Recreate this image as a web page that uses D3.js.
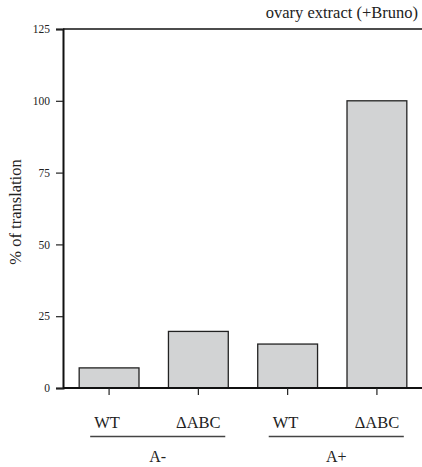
<!DOCTYPE html>
<html>
<head>
<meta charset="utf-8">
<script src="https://cdn.jsdelivr.net/npm/d3@7"></script>
<style>
  body { margin: 0; background: #fff; }
  svg text { font-family: "Liberation Serif", "DejaVu Serif", serif; fill: #222; }
</style>
</head>
<body>
<div id="container"></div>
<script>
// CONSTANTS ###############################
const width = 422,
  height = 467,
  margin = { top: 29, left: 63, right: 0, bottom: 79 };
const serif = "'Liberation Serif', 'DejaVu Serif', serif";

// DATA ####################################
const conditions = ["WT", "\u0394ABC", "WT", "\u0394ABC"];
const groups = ["A-", "A-", "A+", "A+"];
const groupNames = ["A-", "A+"];
const translation = [7, 19.7, 15.3, 100];
const yTicks = [0, 25, 50, 75, 100, 125];

const data = translation.map((v, i) => ({ id: i, cond: conditions[i], group: groups[i], value: v }));

// SCALES ##################################
const xScale = d3.scaleBand()
  .domain(data.map(d => d.id))
  .range([margin.left + 1, width - margin.right])
  .paddingInner(0.33)
  .paddingOuter(0.17);

const yScale = d3.scaleLinear()
  .domain([0, 125])
  .range([height - margin.bottom, margin.top]);

// DRAW ####################################
const svg = d3.select("#container")
  .append("svg")
  .attr("width", width)
  .attr("height", height)
  .attr("font-family", serif);

// bars
svg.selectAll("rect.bar")
  .data(data)
  .join("rect")
  .attr("class", "bar")
  .attr("x", d => xScale(d.id))
  .attr("y", d => yScale(d.value))
  .attr("width", xScale.bandwidth())
  .attr("height", d => yScale(0) - yScale(d.value))
  .attr("fill", "#d2d3d4")
  .attr("stroke", "#222")
  .attr("stroke-width", 1.3);

// y axis
const yAxis = svg.append("g")
  .attr("transform", `translate(${margin.left},0)`)
  .call(d3.axisLeft(yScale).tickValues(yTicks).tickSize(7).tickPadding(6));
yAxis.attr("font-family", serif).attr("font-size", 11.5);
yAxis.select(".domain").attr("stroke", "#111").attr("stroke-width", 2);
yAxis.selectAll(".tick line").attr("stroke", "#222").attr("stroke-width", 1.2);
yAxis.selectAll(".tick text").attr("fill", "#222");

// x axis (baseline + ticks at bar centres)
svg.append("line")
  .attr("x1", margin.left).attr("x2", width)
  .attr("y1", yScale(0)).attr("y2", yScale(0))
  .attr("stroke", "#111").attr("stroke-width", 2);

svg.selectAll("line.xtick")
  .data(data)
  .join("line")
  .attr("class", "xtick")
  .attr("x1", d => xScale(d.id) + xScale.bandwidth() / 2)
  .attr("x2", d => xScale(d.id) + xScale.bandwidth() / 2)
  .attr("y1", yScale(0))
  .attr("y2", yScale(0) + 7)
  .attr("stroke", "#222").attr("stroke-width", 1.2);

// top frame line
svg.append("line")
  .attr("x1", margin.left).attr("x2", width)
  .attr("y1", yScale(125)).attr("y2", yScale(125))
  .attr("stroke", "#111").attr("stroke-width", 1.5);

// condition labels
svg.selectAll("text.cond")
  .data(data)
  .join("text")
  .attr("class", "cond")
  .attr("x", d => xScale(d.id) + xScale.bandwidth() / 2 - (d.cond === "WT" ? 2 : 0))
  .attr("y", 428)
  .attr("text-anchor", "middle")
  .style("font-size", "16.5px")
  .text(d => d.cond);

// group underlines + labels
groupNames.forEach(g => {
  const members = data.filter(d => d.group === g);
  const x0 = xScale(members[0].id) + 11;
  const x1 = xScale(members[members.length - 1].id) + xScale.bandwidth() - 3;
  svg.append("line")
    .attr("x1", x0).attr("x2", x1)
    .attr("y1", 436.5).attr("y2", 436.5)
    .attr("stroke", "#444").attr("stroke-width", 1.3);
  svg.append("text")
    .attr("x", (x0 + x1) / 2)
    .attr("y", 462)
    .attr("text-anchor", "middle")
    .style("font-size", "16px")
    .text(g);
});

// title
svg.append("text")
  .attr("x", 418)
  .attr("y", 18)
  .attr("text-anchor", "end")
  .style("font-size", "16.5px")
  .text("ovary extract (+Bruno)");

// y label
svg.append("text")
  .attr("transform", `translate(21,212) rotate(-90)`)
  .attr("text-anchor", "middle")
  .style("font-size", "16.5px")
  .text("% of translation");
</script>
</body>
</html>
